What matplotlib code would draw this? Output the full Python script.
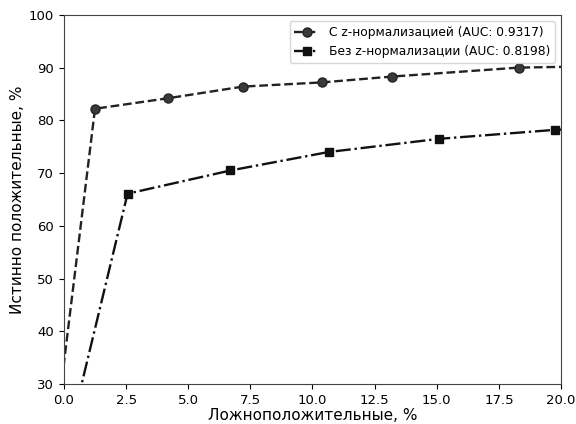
import matplotlib
matplotlib.use('Agg')
import matplotlib.pyplot as plt

# ROC точки (в процентах); крайние точки лежат за пределами осей
fpr_z = [-0.2, 1.25, 4.2, 7.2, 10.4, 13.2, 18.3, 22.0]
tpr_z = [26.3, 82.2, 84.2, 86.4, 87.2, 88.3, 90.0, 90.3]

fpr_noz = [0.0, 2.56, 6.7, 10.65, 15.1, 19.75, 22.0]
tpr_noz = [16.1, 66.1, 70.5, 74.0, 76.5, 78.2, 78.6]

label_z = 'С z-нормализацией (AUC: 0.9317)'
label_noz = 'Без z-нормализации (AUC: 0.8198)'

fig = plt.figure(figsize=(5.76, 4.24), dpi=100)
ax = fig.add_axes([0.111, 0.094, 0.863, 0.871])

ax.plot(fpr_z, tpr_z, linestyle='--', color='#222222', linewidth=1.7,
        marker='o', markersize=6.5, markerfacecolor='#3a3a3a', markeredgecolor='#222222',
        label=label_z)
ax.plot(fpr_noz, tpr_noz, linestyle='-.', color='#111111', linewidth=1.7,
        marker='s', markersize=6, markerfacecolor='#111111', markeredgecolor='#111111',
        label=label_noz)

ax.set_xlim(0, 20)
ax.set_ylim(30, 100)
ax.set_xlabel('Ложноположительные, %', fontsize=11, labelpad=1)
ax.set_ylabel('Истинно положительные, %', fontsize=11, labelpad=3)
ax.tick_params(labelsize=9.5)
for s in ax.spines.values():
    s.set_color('#444444')
ax.legend(loc='upper right', fontsize=8.8)

fig.savefig('out.png', dpi=100)
